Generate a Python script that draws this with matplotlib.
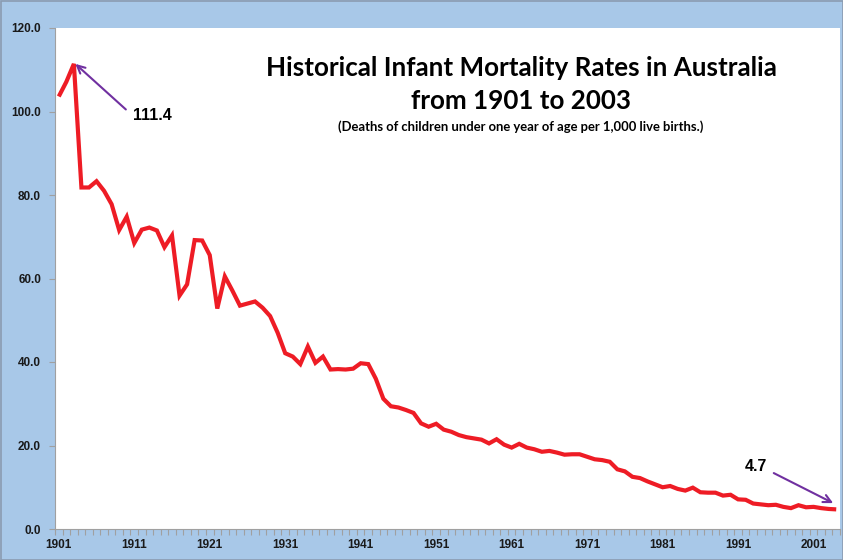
import matplotlib
matplotlib.use("Agg")
import matplotlib.pyplot as plt
import numpy as np

years = list(range(1901, 2005))
rates = [103.6, 107.1, 111.4, 81.8, 81.8, 83.3, 81.0, 77.8, 71.6, 74.8,
         68.5, 71.7, 72.2, 71.5, 67.5, 70.3, 55.9, 58.6, 69.2, 69.1,
         65.6, 52.8, 60.5, 57.1, 53.5, 54.0, 54.5, 53.0, 51.0, 47.0,
         42.1, 41.3, 39.5, 43.7, 39.8, 41.3, 38.2, 38.3, 38.2, 38.4,
         39.7, 39.5, 36.0, 31.2, 29.4, 29.1, 28.5, 27.8, 25.3, 24.5,
         25.2, 23.8, 23.3, 22.5, 22.0, 21.7, 21.4, 20.5, 21.5, 20.2,
         19.5, 20.4, 19.5, 19.1, 18.5, 18.7, 18.3, 17.8, 17.9, 17.9,
         17.3, 16.7, 16.5, 16.1, 14.3, 13.8, 12.5, 12.2, 11.4, 10.7,
         10.0, 10.3, 9.6, 9.2, 9.9, 8.8, 8.7, 8.7, 8.0, 8.2,
         7.1, 7.0, 6.1, 5.9, 5.7, 5.8, 5.3, 5.0, 5.7, 5.2,
         5.3, 5.0, 4.8, 4.7]
ytick_vals = [0, 20, 40, 60, 80, 100, 120]
xtick_labels = [str(y) for y in range(1901, 2002, 10)]

title1 = "Historical Infant Mortality Rates in Australia"
title2 = "from 1901 to 2003"
subtitle = "(Deaths of children under one year of age per 1,000 live births.)"

W, H = 843, 560
bg = "#A8C8E8"
fig = plt.figure(figsize=(W/100, H/100), dpi=100, facecolor=bg)
fig.patches.append(plt.Rectangle((0.5/W, 0.5/H), 1-1/W, 1-1/H, transform=fig.transFigure,
                                 fill=False, edgecolor="#8A9BB0", linewidth=1.2))
ax = fig.add_axes([55/W, (H-529)/H, 785/W, 501/H])
ax.set_facecolor("white")

x = np.arange(len(years))
ax.plot(x, rates, color="#EE1C25", linewidth=3.0, solid_joinstyle="miter", solid_capstyle="butt")

ax.set_xlim(-0.5, len(years) - 0.5)
ax.set_ylim(0, 120)
for s in ["top", "right"]:
    ax.spines[s].set_visible(False)
for s in ["left", "bottom"]:
    ax.spines[s].set_color("#A0A0A0")
    ax.spines[s].set_linewidth(0.8)

ax.set_yticks(ytick_vals)
ax.set_yticklabels([f"{v:.1f}" for v in ytick_vals])
ax.tick_params(axis="y", length=4, color="#A0A0A0", pad=6)
ax.set_xticks(np.arange(0, len(years), 10))
ax.set_xticklabels(xtick_labels)
ax.tick_params(axis="x", which="major", length=0, pad=7)
ax.set_xticks(np.arange(-0.5, len(years), 1), minor=True)
ax.tick_params(axis="x", which="minor", length=4, color="#A0A0A0", width=0.8)
for lab in ax.get_xticklabels() + ax.get_yticklabels():
    lab.set_fontfamily("Liberation Sans")
    lab.set_fontweight("bold")
    lab.set_fontsize(8.5)
    lab.set_color("#1a1a1a")

# Title
fig.text(521/W, 1-68/H, title1, ha="center", va="center", fontsize=18.7,
         fontweight="bold", family="Lato", color="black")
fig.text(521/W, 1-101/H, title2, ha="center", va="center", fontsize=18.7,
         fontweight="bold", family="Lato", color="black")
fig.text(521/W, 1-127/H, subtitle, ha="center", va="center", fontsize=9.4,
         fontweight="bold", family="Lato", color="black")

purple = "#7030A0"
peak_i = int(np.argmax(rates))
ax.annotate(f"{rates[peak_i]:.1f}", xy=(peak_i + 0.2, rates[peak_i]), xytext=(9.8, 99.0),
            fontsize=11.5, fontweight="bold", family="Liberation Sans", va="center", ha="left",
            arrowprops=dict(arrowstyle="->", color=purple, lw=1.5, mutation_scale=14,
                            shrinkA=4, shrinkB=0, relpos=(0, 0.5)))
last_i = len(rates) - 1
ax.annotate(f"{rates[last_i]:.1f}", xy=(last_i - 0.4, rates[last_i] + 1.5), xytext=(90.9, 14.9),
            fontsize=11.5, fontweight="bold", family="Liberation Sans", va="center", ha="left",
            arrowprops=dict(arrowstyle="->", color=purple, lw=1.5, mutation_scale=14,
                            shrinkA=3, shrinkB=0, relpos=(1, 0.3)))

fig.savefig("out.png", dpi=100, facecolor=bg)
